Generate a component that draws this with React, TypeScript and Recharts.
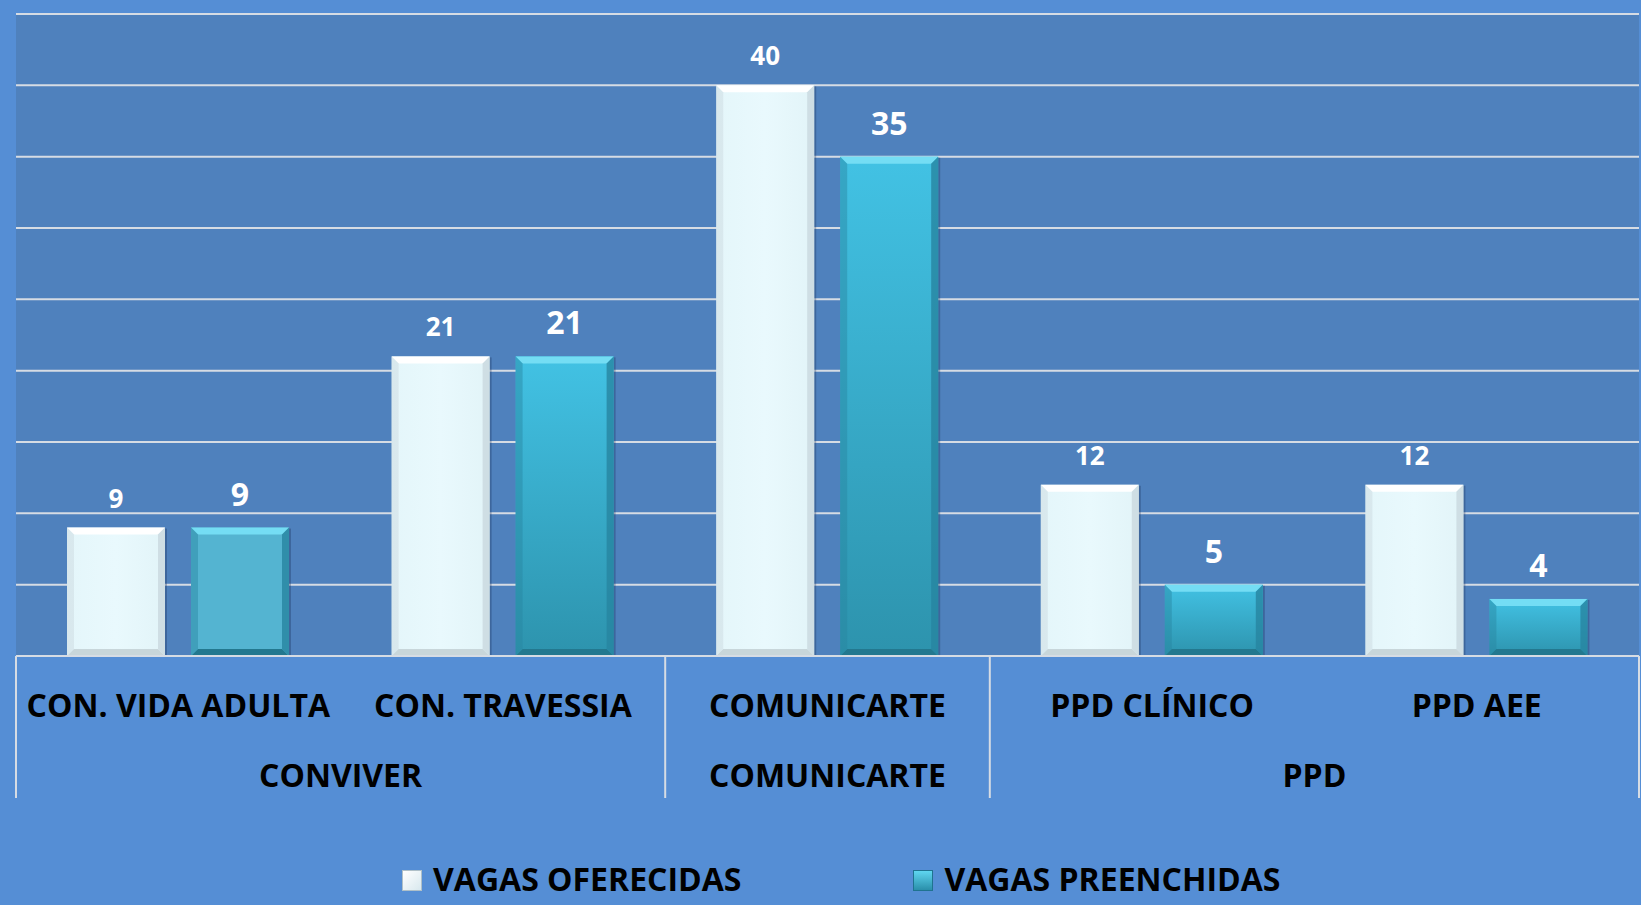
import { BarChart, Bar, XAxis, YAxis, CartesianGrid, Legend, LabelList, Cell } from 'recharts'

// Vagas oferecidas x preenchidas por programa
const categories = ['CON. VIDA ADULTA', 'CON. TRAVESSIA', 'COMUNICARTE', 'PPD CLÍNICO', 'PPD AEE']
const groupOf = ['CONVIVER', 'CONVIVER', 'COMUNICARTE', 'PPD', 'PPD']
const vagasOferecidas = [9, 21, 40, 12, 12]
const vagasPreenchidas = [9, 21, 35, 5, 4]
const yTicks = [0, 5, 10, 15, 20, 25, 30, 35, 40, 45]
const seriesNames = ['VAGAS OFERECIDAS', 'VAGAS PREENCHIDAS']

const W = 1641
const H = 905
const MARGIN = { top: 14, right: 2, left: 16, bottom: 0 }
const BAND = (W - MARGIN.left - MARGIN.right) / categories.length
const FONT = '"Open Sans", "DejaVu Sans", sans-serif'
const OUTER_BG = '#558ED5'
const PLOT_BG = '#4F81BD'
const LINE = '#D6DCE4'

const data = categories.map((name, i) => ({
  name,
  group: groupOf[i],
  oferecidas: vagasOferecidas[i],
  preenchidas: vagasPreenchidas[i],
}))

// bar with a bevelled edge, roughly like the Excel "soft bevel" look
function BevelBar(props: any) {
  const { x, y, width, height, fill, edgeLight, edgeDark, edgeSide } = props
  if (!height || height <= 0) return null
  const b = Math.min(7, height / 2, width / 2)
  const x2 = x + width
  const y2 = y + height
  return (
    <g>
      <rect x={x + 2} y={y + 1} width={width} height={height - 1} fill="rgba(20,40,80,0.3)" />
      <rect x={x} y={y} width={width} height={height} fill={fill} />
      <polygon points={`${x},${y} ${x2},${y} ${x2 - b},${y + b} ${x + b},${y + b}`} fill={edgeLight} />
      <polygon points={`${x},${y2} ${x2},${y2} ${x2 - b},${y2 - b} ${x + b},${y2 - b}`} fill={edgeDark} />
      <polygon points={`${x},${y} ${x + b},${y + b} ${x + b},${y2 - b} ${x},${y2}`} fill={edgeSide} opacity={0.45} />
      <polygon points={`${x2},${y} ${x2 - b},${y + b} ${x2 - b},${y2 - b} ${x2},${y2}`} fill={edgeSide} opacity={0.8} />
    </g>
  )
}

function makeLabel(size: number, lift: number) {
  return (p: any) => {
    const { x, y, width, value } = p
    return (
      <text
        x={x + width / 2}
        y={y - lift}
        textAnchor="middle"
        fill="#FFFFFF"
        fontSize={size}
        fontWeight={700}
        fontFamily={FONT}
      >
        {value}
      </text>
    )
  }
}

// two-row category table under the plot
function GroupTick(props: any) {
  const { x, y, index } = props
  const name = categories[index]
  const g = groupOf[index]
  const first = index === 0 || groupOf[index - 1] !== g
  const last = index === categories.length - 1
  let span = 0
  if (first) {
    for (let j = index; j < groupOf.length && groupOf[j] === g; j++) span++
  }
  const tableH = 142
  return (
    <g>
      {first && (
        <line x1={x - BAND / 2} x2={x - BAND / 2} y1={y} y2={y + tableH} stroke={LINE} strokeWidth={2} />
      )}
      {last && (
        <line x1={x + BAND / 2} x2={x + BAND / 2} y1={y} y2={y + tableH} stroke={LINE} strokeWidth={2} />
      )}
      <text x={x} y={y + 61} textAnchor="middle" fill="#000" fontSize={32} fontWeight={700} fontFamily={FONT}>
        {name}
      </text>
      {first && (
        <text
          x={x + ((span - 1) * BAND) / 2}
          y={y + 131}
          textAnchor="middle"
          fill="#000"
          fontSize={32}
          fontWeight={700}
          fontFamily={FONT}
        >
          {g}
        </text>
      )}
    </g>
  )
}

function LegendBox() {
  const marker = (bg: string, border: string) => (
    <span
      style={{
        display: 'inline-block',
        width: 20,
        height: 21,
        background: bg,
        border: `1px solid ${border}`,
        boxSizing: 'border-box',
        marginRight: 11,
        marginTop: 7,
      }}
    />
  )
  const textStyle = {
    fontFamily: FONT,
    fontWeight: 700,
    fontSize: 32,
    lineHeight: '32px',
    color: '#000',
    whiteSpace: 'nowrap' as const,
  }
  return (
    <div style={{ display: 'flex', paddingLeft: 402, paddingTop: 65, height: 107, boxSizing: 'border-box' }}>
      <div style={{ display: 'flex', alignItems: 'flex-start', marginRight: 172 }}>
        {marker('linear-gradient(135deg, #FFFFFF, #D8E8EE)', '#AFC0C8')}
        <span style={textStyle}>{seriesNames[0]}</span>
      </div>
      <div style={{ display: 'flex', alignItems: 'flex-start' }}>
        {marker('linear-gradient(180deg, #5FD6F0, #2A8FAA)', '#1F7390')}
        <span style={textStyle}>{seriesNames[1]}</span>
      </div>
    </div>
  )
}

export default function App() {
  return (
    <div style={{ width: W, height: H, background: OUTER_BG }}>
      <style>{'body{margin:0}'}</style>
      <BarChart width={W} height={H} data={data} margin={MARGIN} barGap={26} barSize={98}>
        <defs>
          <linearGradient id="tealGrad" x1="0" y1="0" x2="0" y2="1">
            <stop offset="0%" stopColor="#42C2E4" />
            <stop offset="100%" stopColor="#2D93AD" />
          </linearGradient>
          <linearGradient id="whiteGrad" x1="0" y1="0" x2="1" y2="0">
            <stop offset="0%" stopColor="#E4F6FA" />
            <stop offset="50%" stopColor="#E9F9FD" />
            <stop offset="100%" stopColor="#E2F4F8" />
          </linearGradient>
        </defs>
        <CartesianGrid vertical={false} stroke={LINE} strokeWidth={2} fill={PLOT_BG} fillOpacity={1} />
        <YAxis hide domain={[0, 45]} ticks={yTicks} />
        <XAxis
          dataKey="name"
          height={142}
          interval={0}
          tickSize={0}
          tickMargin={0}
          tickLine={false}
          axisLine={{ stroke: LINE, strokeWidth: 2 }}
          tick={<GroupTick />}
        />
        <Legend verticalAlign="bottom" height={107} wrapperStyle={{ left: 0, width: W }} content={() => <LegendBox />} />
        <Bar
          dataKey="oferecidas"
          name={seriesNames[0]}
          fill="url(#whiteGrad)"
          isAnimationActive={false}
          shape={(p: any) => <BevelBar {...p} edgeLight="#FFFFFF" edgeDark="#C8D6DA" edgeSide="#C9D8DE" />}
        >
          <LabelList dataKey="oferecidas" content={makeLabel(26, 20)} />
        </Bar>
        <Bar
          dataKey="preenchidas"
          name={seriesNames[1]}
          fill="url(#tealGrad)"
          isAnimationActive={false}
          shape={(p: any) => <BevelBar {...p} edgeLight="#74DDF4" edgeDark="#23788F" edgeSide="#2784A0" />}
        >
          {data.map((d, i) => (
            <Cell key={d.name} fill={i === 0 ? '#54B4D1' : 'url(#tealGrad)'} />
          ))}
          <LabelList dataKey="preenchidas" content={makeLabel(32, 22)} />
        </Bar>
      </BarChart>
    </div>
  )
}
